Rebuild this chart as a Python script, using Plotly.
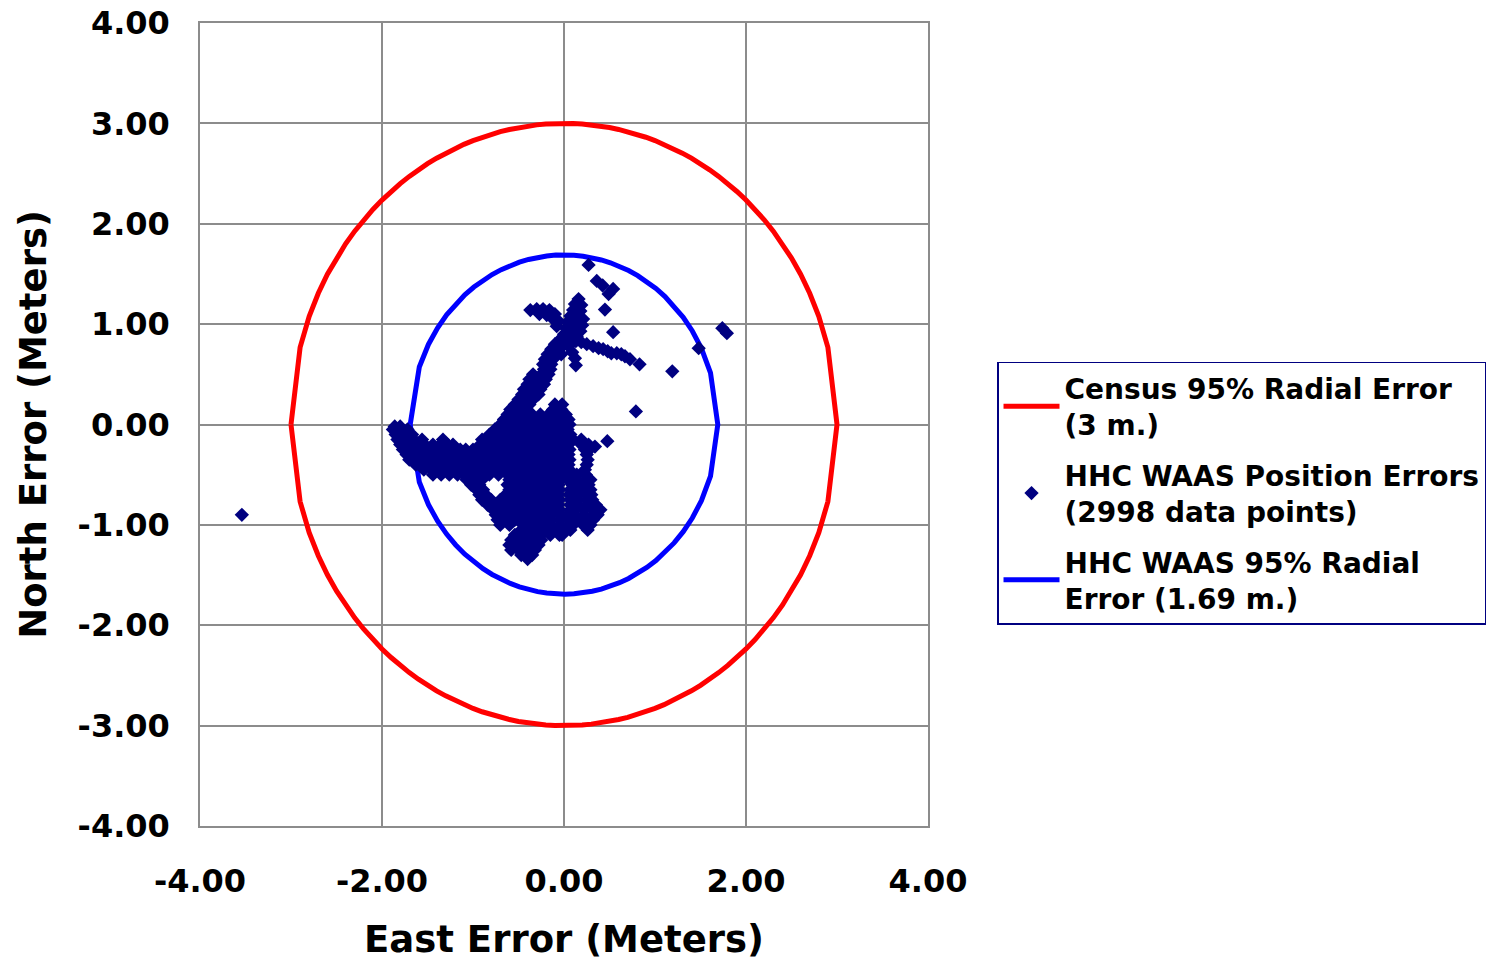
import math
import plotly.graph_objects as go

# ---------------- data ----------------
census_radius = 3.0      # Census 95% radial error (m)
waas_radius = 1.69       # HHC WAAS 95% radial error (m)

x_tick_vals = [-4, -2, 0, 2, 4]
x_tick_text = ["-4.00", "-2.00", "0.00", "2.00", "4.00"]
y_tick_vals = [-4, -3, -2, -1, 0, 1, 2, 3, 4]
y_tick_text = ["-4.00", "-3.00", "-2.00", "-1.00", "0.00", "1.00", "2.00", "3.00", "4.00"]

# isolated position errors (east, north)
isolated_points = [
    (-3.54, -0.90), (0.27, 1.59), (0.36, 1.43), (0.425, 1.385), (0.54, 1.35),
    (0.49, 1.30), (0.45, 1.145), (0.54, 0.92), (1.74, 0.96), (1.79, 0.91),
    (1.48, 0.76), (1.19, 0.53), (0.79, 0.13), (0.476, -0.166), (0.34, -0.22),
]

# the "X" shaped group north of the centre and the arm heading east
x_group_points = [
    (-0.37, 1.14), (-0.30, 1.15), (-0.23, 1.15), (-0.16, 1.14), (-0.10, 1.10),
    (-0.27, 1.10), (-0.19, 1.09), (-0.12, 1.05), (-0.06, 1.03), (-0.08, 0.98),
    (0.16, 1.25), (0.12, 1.20), (0.19, 1.19), (0.10, 1.14), (0.18, 1.13),
    (0.07, 1.08), (0.15, 1.07), (0.21, 1.05), (0.04, 1.02), (0.12, 1.01),
    (0.20, 0.99), (0.02, 0.96), (0.10, 0.95), (0.18, 0.93), (0.00, 0.90),
    (0.07, 0.89), (0.14, 0.88), (-0.03, 0.86), (0.04, 0.84),
    (0.07, 0.84), (0.13, 0.83), (0.19, 0.82), (0.25, 0.80), (0.32, 0.78),
    (0.38, 0.76), (0.43, 0.75), (0.48, 0.73), (0.52, 0.71), (0.58, 0.71),
    (0.63, 0.70), (0.67, 0.68), (0.725, 0.65), (0.83, 0.60),
    (0.05, 0.78), (0.09, 0.72), (0.12, 0.66), (0.13, 0.59),
]

# dense part of the track, listed row by row: (north, [east values])
track_rows = [
    (0.80, [-0.10, -0.02]),
    (0.75, [-0.14, -0.05]),
    (0.70, [-0.18, -0.09, -0.03]),
    (0.65, [-0.21, -0.12]),
    (0.60, [-0.23, -0.14]),
    (0.55, [-0.22, -0.15]),
    (0.50, [-0.34, -0.25, -0.17]),
    (0.45, [-0.38, -0.29, -0.20]),
    (0.40, [-0.40, -0.31, -0.22]),
    (0.35, [-0.44, -0.35, -0.26]),
    (0.30, [-0.46, -0.38, -0.28]),
    (0.25, [-0.50, -0.42, -0.34]),
    (0.20, [-0.54, -0.46, -0.38, -0.10, -0.02]),
    (0.15, [-0.59, -0.50, -0.41, -0.12, -0.03]),
    (0.10, [-0.62, -0.53, -0.44, -0.35, -0.26, -0.17, -0.08, 0.02]),
    (0.05, [-0.66, -0.57, -0.48, -0.39, -0.30, -0.21, -0.12, -0.03, 0.05]),
    (0.00, [-0.70, -0.61, -0.52, -0.43, -0.34, -0.25, -0.16, -0.07, 0.02, 0.06]),
    (-0.02, [-1.86, -1.80]),
    (-0.05, [-1.88, -1.79, -1.72, -0.76, -0.66, -0.56, -0.46, -0.36, -0.26, -0.16, -0.06, 0.04]),
    (-0.10, [-1.85, -1.76, -1.67, -0.82, -0.72, -0.62, -0.52, -0.42, -0.32, -0.22, -0.12, -0.02, 0.07]),
    (-0.15, [-1.83, -1.74, -1.65, -1.56, -1.33, -0.90, -0.80, -0.70, -0.60, -0.50, -0.40, -0.30,
             -0.20, -0.10, 0.00, 0.10, 0.19]),
    (-0.20, [-1.80, -1.71, -1.62, -1.53, -1.44, -1.36, -1.28, -1.22, -0.92, -0.85, -0.75, -0.65,
             -0.55, -0.45, -0.35, -0.25, -0.15, -0.05, 0.05, 0.19, 0.27]),
    (-0.25, [-1.77, -1.68, -1.59, -1.50, -1.41, -1.32, -1.23, -1.14, -1.08, -1.00, -0.90, -0.80,
             -0.70, -0.60, -0.50, -0.40, -0.30, -0.20, -0.10, 0.00, 0.06, 0.23, 0.28]),
    (-0.30, [-1.73, -1.64, -1.55, -1.46, -1.37, -1.28, -1.19, -1.10, -1.03, -0.95, -0.85, -0.75,
             -0.65, -0.55, -0.45, -0.35, -0.25, -0.15, -0.05, 0.05, 0.25]),
    (-0.35, [-1.70, -1.61, -1.52, -1.43, -1.34, -1.25, -1.16, -1.08, -1.00, -0.90, -0.80, -0.70,
             -0.60, -0.50, -0.40, -0.30, -0.20, -0.10, 0.00, 0.06, 0.26]),
    (-0.40, [-1.63, -1.54, -1.45, -1.36, -1.27, -1.18, -1.09, -1.03, -0.95, -0.85, -0.75, -0.65,
             -0.55, -0.45, -0.35, -0.25, -0.15, -0.05, 0.05, 0.25]),
    (-0.45, [-1.54, -1.45, -1.36, -1.27, -1.18, -1.10, -1.00, -0.90, -0.80, -0.70, -0.60, -0.50,
             -0.40, -0.30, -0.20, -0.10, 0.00, 0.06, 0.23]),
    (-0.50, [-1.44, -1.35, -1.26, -1.17, -1.10, -1.02, -0.92, -0.82, -0.72, -0.62, -0.52, -0.42,
             -0.32, -0.22, -0.12, -0.02, 0.04, 0.14, 0.24]),
    (-0.55, [-1.07, -0.98, -0.90, -0.60, -0.50, -0.40, -0.30, -0.20, -0.10, -0.04, 0.04, 0.14,
             0.24, 0.29]),
    (-0.60, [-1.02, -0.93, -0.62, -0.55, -0.45, -0.35, -0.25, -0.15, -0.06, 0.09, 0.19, 0.27]),
    (-0.65, [-0.96, -0.89, -0.60, -0.50, -0.40, -0.30, -0.20, -0.10, -0.05, 0.07, 0.15, 0.24, 0.29]),
    (-0.70, [-0.93, -0.86, -0.64, -0.55, -0.45, -0.35, -0.25, -0.15, -0.06, 0.06, 0.16, 0.26, 0.30]),
    (-0.75, [-0.90, -0.80, -0.70, -0.60, -0.50, -0.40, -0.30, -0.20, -0.10, -0.05, 0.07, 0.15,
             0.25, 0.31]),
    (-0.80, [-0.84, -0.75, -0.65, -0.55, -0.45, -0.35, -0.25, -0.15, -0.06, 0.07, 0.15, 0.25, 0.35]),
    (-0.85, [-0.78, -0.70, -0.60, -0.50, -0.40, -0.30, -0.20, -0.10, -0.05, 0.07, 0.12, 0.22,
             0.32, 0.40]),
    (-0.90, [-0.75, -0.65, -0.55, -0.45, -0.35, -0.25, -0.15, -0.05, 0.04, 0.12, 0.22, 0.32, 0.37]),
    (-0.95, [-0.73, -0.64, -0.54, -0.44, -0.34, -0.24, -0.14, -0.04, 0.06, 0.16, 0.25, 0.32]),
    (-1.00, [-0.70, -0.60, -0.45, -0.35, -0.25, -0.15, -0.05, 0.05, 0.10, 0.21, 0.29]),
    (-1.05, [-0.47, -0.38, -0.28, -0.18, -0.08, 0.02, 0.07, 0.26]),
    (-1.10, [-0.54, -0.45, -0.35, -0.25, -0.15, -0.05, -0.02]),
    (-1.15, [-0.58, -0.50, -0.40, -0.30, -0.25]),
    (-1.20, [-0.60, -0.52, -0.42, -0.32, -0.28]),
    (-1.25, [-0.58, -0.50, -0.40, -0.32]),
    (-1.30, [-0.47, -0.40, -0.35]),
    (-1.34, [-0.40]),
]

# ---------------- assemble ----------------
east_err = [p[0] for p in isolated_points] + [p[0] for p in x_group_points]
north_err = [p[1] for p in isolated_points] + [p[1] for p in x_group_points]
for north, easts in track_rows:
    for e in easts:
        east_err.append(e)
        north_err.append(north)


def circle(r):
    # ring traced the way the spreadsheet did it: east steps of 0.1 m
    xs = []
    n = int(round(2 * r / 0.1))
    for i in range(n + 1):
        xs.append(min(-r + 0.1 * i, r))
    if xs[-1] < r:
        xs.append(r)
    ys = [math.sqrt(max(r * r - x * x, 0.0)) for x in xs]
    cx = xs + xs[::-1]
    cy = ys + [-v for v in ys[::-1]]
    return cx, cy


cxr, cyr = circle(census_radius)
cxb, cyb = circle(waas_radius)

FONT = "DejaVu Sans"

fig = go.Figure()
fig.add_trace(go.Scatter(
    x=cxr, y=cyr, mode="lines", line=dict(color="#FF0000", width=5),
    name="Census 95% Radial Error<br>(3 m.)", legendrank=1, legendgroup="a",
))
fig.add_trace(go.Scatter(
    x=cxb, y=cyb, mode="lines", line=dict(color="#0000FF", width=5),
    name="HHC WAAS 95% Radial<br>Error (1.69 m.)", legendrank=3, legendgroup="c",
))
fig.add_trace(go.Scatter(
    x=east_err, y=north_err, mode="markers",
    marker=dict(symbol="diamond", size=11, color="#000080", line=dict(width=0)),
    name="HHC WAAS Position Errors<br>(2998 data points)", legendrank=2, legendgroup="b",
))

axis_common = dict(
    showgrid=True, gridcolor="#8C8C8C", gridwidth=1.5,
    showline=True, linecolor="#8C8C8C", linewidth=1.5, mirror=True,
    zeroline=False, ticks="outside", tickcolor="rgba(0,0,0,0)",
    automargin=False,
    tickfont=dict(family=FONT, size=32, color="black", weight="bold"),
)

fig.update_xaxes(
    range=[-4, 4], tickvals=x_tick_vals, ticktext=x_tick_text, ticklen=26,
    title=dict(text="East Error (Meters)", font=dict(family=FONT, size=37, color="black", weight="bold"),
               standoff=33),
    **axis_common,
)
fig.update_yaxes(
    range=[-4, 4], tickvals=y_tick_vals, ticktext=y_tick_text, ticklen=22,
    title=dict(text="North Error (Meters)", font=dict(family=FONT, size=37, color="black", weight="bold"),
               standoff=20),
    **axis_common,
)

fig.update_layout(
    width=1494, height=961,
    margin=dict(l=200, r=566, t=23, b=135, autoexpand=False),
    paper_bgcolor="white", plot_bgcolor="white",
    showlegend=True,
    legend=dict(
        x=1.0948, y=0.578, xanchor="left", yanchor="top",
        bordercolor="#000080", borderwidth=1.5, bgcolor="white",
        font=dict(family=FONT, size=28, color="black", weight="bold"),
        itemwidth=56, tracegroupgap=11, entrywidth=520, entrywidthmode="pixels",
    ),
)

fig.write_html(
    "out.html",
    config={"displayModeBar": False},
    post_script="document.body.style.margin='0';document.body.style.overflow='hidden';",
)
